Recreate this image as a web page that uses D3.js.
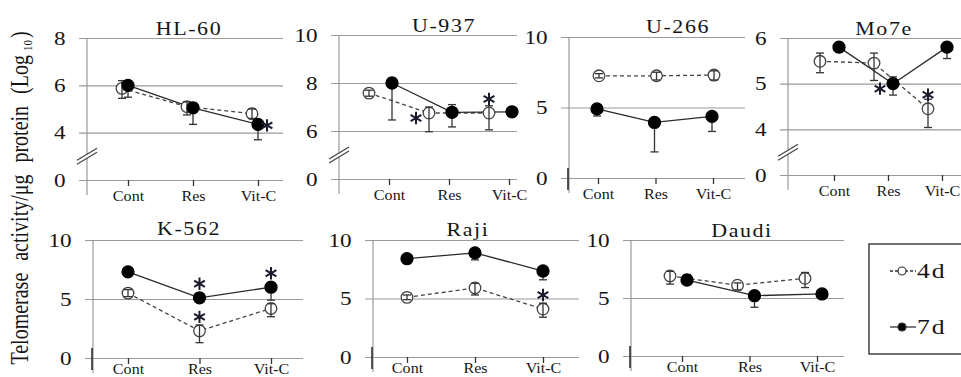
<!DOCTYPE html>
<html>
<head>
<meta charset="utf-8">
<script src="https://cdn.jsdelivr.net/npm/d3@7"></script>
<style>
  body { margin: 0; background: #fff; }
  svg { display: block; font-family: "Liberation Serif", "DejaVu Serif", serif; }
</style>
</head>
<body>
<svg width="961" height="377"></svg>
<script>
// cell lines, treatments, time points
var cellLines = ["HL-60", "U-937", "U-266", "Mo7e", "K-562", "Raji", "Daudi"];
var treatments = ["Cont", "Res", "Vit-C"];
var seriesNames = ["4d", "7d"];
var yTicks = [[0, 4, 6, 8], [0, 6, 8, 10], [0, 5, 10], [0, 4, 5, 6], [0, 5, 10], [0, 5, 10], [0, 5, 10]];

// telomerase activity (log10): mean, lower and upper error bar ends
var mean4d = [[5.87, 5.1, 4.8], [7.58, 6.75, 6.75], [7.25, 7.25, 7.3], [5.49, 5.45, 4.45], [5.5, 2.3, 4.2], [5.1, 5.9, 4.1], [6.9, 6.1, 6.7]];
var low4d  = [[5.45, 4.75, 4.6], [7.45, 5.97, 6.05], [7.1, 6.95, 6.95], [5.24, 5.07, 4.04], [5.2, 1.3, 3.5], [4.9, 5.3, 3.4], [6.2, 5.7, 5.9]];
var high4d = [[6.2, 5.3, 5.0], [7.7, 7.0, 7.05], [7.4, 7.5, 7.6], [5.67, 5.67, 4.66], [5.8, 2.8, 4.6], [5.3, 6.3, 4.6], [7.3, 6.3, 7.2]];
var mean7d = [[6.0, 5.05, 4.35], [8.0, 6.78, 6.8], [4.9, 3.94, 4.37], [5.8, 5.0, 5.8], [7.3, 5.1, 6.0], [8.4, 8.9, 7.35], [6.55, 5.2, 5.35]];
var low7d  = [[5.5, 4.35, 3.7], [6.46, 6.17, 6.7], [4.4, 1.85, 3.3], [5.69, 4.75, 5.55], [7.2, 5.0, 4.9], [8.2, 8.3, 6.6], [6.2, 4.2, 5.25]];
var high7d = [[6.15, 5.25, 4.5], [8.2, 7.1, 6.9], [5.05, 4.1, 4.5], [5.9, 5.15, 5.9], [7.4, 5.2, 6.1], [8.5, 9.0, 7.45], [7.0, 5.35, 5.45]];

// significance marks: [cell line index, treatment index, series index, side]
var stars = [[0, 2, 1, "right"], [1, 1, 0, "left"], [1, 2, 0, "above"], [3, 1, 1, "left"], [3, 2, 0, "above"],
             [4, 1, 1, "above"], [4, 1, 0, "above"], [4, 2, 1, "above"], [5, 2, 0, "above"]];

// panel placement
var panels = [
  {ax: 87,  right: 283, top: 38,  bottom: 180, c0: 128, c2: 258, tx: 189, ty: 35,  off: [-6, 0],   lab: 5},
  {ax: 339, right: 517, top: 35,  bottom: 179, c0: 389, c2: 509, tx: 444, ty: 32,  off: [-20, 3],  lab: 5},
  {ax: 569, right: 745, top: 37,  bottom: 178, c0: 598, c2: 713, tx: 678, ty: 33,  off: [1, -1],   lab: 5},
  {ax: 788, right: 961, top: 38,  bottom: 175, c0: 834, c2: 942, tx: 884, ty: 35,  off: [-14, 5],  lab: 5},
  {ax: 93,  right: 303, top: 240, bottom: 358, c0: 128, c2: 271, tx: 189, ty: 235, off: [0, 0],    lab: 0},
  {ax: 373, right: 579, top: 240, bottom: 357, c0: 407, c2: 543, tx: 468, ty: 236, off: [0, 0],    lab: 0},
  {ax: 631, right: 844, top: 240, bottom: 356, c0: 682, c2: 817, tx: 742, ty: 237, off: [-12, 5],  lab: 0}
];

var stretch = 1.22;
var ink = "#151515";
var gridCol = "#9a9a9a";
var svg = d3.select("svg");

cellLines.forEach(function(name, i) {
  var p = panels[i];
  var ticks = yTicks[i];
  var n = ticks.length;
  var g = svg.append("g");
  var gridLeft = p.ax - 8;

  // axis scale: ticks evenly spaced (broken axis), data scale continues linearly from the upper ticks
  var yAxisScale = d3.scaleLinear().domain(ticks)
      .range(ticks.map(function(t, k) { return p.bottom - k * (p.bottom - p.top) / (n - 1); }));
  var y = d3.scaleLinear().domain([ticks[1], ticks[n - 1]]).range([yAxisScale(ticks[1]), p.top]);
  var x = d3.scalePoint().domain(treatments).range([p.c0, p.c2]);
  var hasBreak = (ticks[1] - ticks[0]) > (ticks[2] - ticks[1]) * 1.01;

  // gridlines + y labels
  g.append("g")
    .attr("transform", "translate(" + gridLeft + ",0)")
    .call(d3.axisLeft(yAxisScale).tickValues(ticks).tickSize(-(p.right - gridLeft)).tickPadding(11).tickFormat(d3.format("d")))
    .call(function(a) {
      a.select(".domain").remove();
      a.selectAll("line").attr("stroke", gridCol).attr("stroke-width", 1.2);
      a.selectAll("text").attr("fill", ink).attr("font-size", 19)
        .attr("font-family", "Liberation Serif").attr("transform", "scale(" + stretch + ",1)");
    });

  // vertical axis
  g.append("line").attr("x1", p.ax).attr("x2", p.ax).attr("y1", p.top).attr("y2", p.bottom + 15)
    .attr("stroke", gridCol).attr("stroke-width", 1.2);
  if (!hasBreak) {
    g.append("line").attr("x1", p.ax - 1).attr("x2", p.ax - 1).attr("y1", p.bottom - 10).attr("y2", p.bottom + 12)
      .attr("stroke", "#222").attr("stroke-width", 1.5);
  } else {
    var m = (yAxisScale(ticks[0]) + yAxisScale(ticks[1])) / 2;
    g.append("polygon")
      .attr("points", [[p.ax - 10, m + 8], [p.ax + 10, m - 4], [p.ax + 10, m - 8], [p.ax - 10, m + 4]].join(" "))
      .attr("fill", "#fff");
    [8, 4].forEach(function(d) {
      g.append("line").attr("x1", p.ax - 10).attr("y1", m + d).attr("x2", p.ax + 10).attr("y2", m + d - 12)
        .attr("stroke", "#444").attr("stroke-width", 1.2);
    });
  }

  // x axis ticks + labels
  g.append("g")
    .attr("transform", "translate(0," + p.bottom + ")")
    .call(d3.axisBottom(x).tickSize(6).tickPadding(p.lab))
    .call(function(a) {
      a.select(".domain").remove();
      a.selectAll("line").attr("stroke", "#333").attr("stroke-width", 1.3);
      a.selectAll("text").attr("fill", ink).attr("font-size", 14)
        .attr("font-family", "Liberation Serif").attr("transform", "scale(1.15,1)");
    });

  // title
  g.append("text")
    .attr("transform", "translate(" + p.tx + "," + p.ty + ") scale(" + stretch + ",1)")
    .attr("text-anchor", "middle").attr("font-size", 18).attr("letter-spacing", 1.3)
    .attr("fill", ink).text(name);

  var series = [
    {mean: mean4d[i], lo: low4d[i], hi: high4d[i], dx: p.off[0], open: true},
    {mean: mean7d[i], lo: low7d[i], hi: high7d[i], dx: p.off[1], open: false}
  ];
  series.forEach(function(s) {
    s.pts = treatments.map(function(t, k) {
      return {x: x(t) + s.dx, y: y(s.mean[k]), lo: y(s.lo[k]), hi: y(s.hi[k])};
    });
  });

  var line = d3.line().x(function(d) { return d.x; }).y(function(d) { return d.y; });
  series.forEach(function(s) {
    g.append("path").attr("d", line(s.pts)).attr("fill", "none")
      .attr("stroke", s.open ? "#444" : "#2a2a2a").attr("stroke-width", 1.3)
      .attr("stroke-dasharray", s.open ? "4,3" : null);
  });

  series.forEach(function(s) {
    var eg = g.append("g");
    var drawBars = function() {
      s.pts.forEach(function(d) {
        eg.append("line").attr("x1", d.x).attr("x2", d.x).attr("y1", d.lo).attr("y2", d.hi)
          .attr("stroke", "#333").attr("stroke-width", 1.3);
        [d.lo, d.hi].forEach(function(v) {
          eg.append("line").attr("x1", d.x - 4).attr("x2", d.x + 4).attr("y1", v).attr("y2", v)
            .attr("stroke", "#333").attr("stroke-width", 1.3);
        });
      });
    };
    if (!s.open) drawBars();
    eg.selectAll("circle").data(s.pts).enter().append("circle")
      .attr("cx", function(d) { return d.x; })
      .attr("cy", function(d) { return d.y; })
      .attr("r", s.open ? 5.8 : 6)
      .attr("fill", s.open ? "#fff" : "#000")
      .attr("stroke", s.open ? "#444" : "#000").attr("stroke-width", 1.3);
    if (s.open) drawBars();
  });

  // asterisks
  stars.filter(function(st) { return st[0] === i; }).forEach(function(st) {
    var pt = series[st[2]].pts[st[1]];
    var sx = pt.x, sy = pt.y;
    if (st[3] === "above") sy -= 14;
    if (st[3] === "left") { sx -= 13; sy += 5; }
    if (st[3] === "right") { sx += 9; sy += 1; }
    var r = 6.2, t = r / 2, u = t * Math.sqrt(3);
    var path = d3.path();
    path.moveTo(sx, sy - r); path.lineTo(sx, sy + r);
    path.moveTo(sx - u, sy - t); path.lineTo(sx + u, sy + t);
    path.moveTo(sx - u, sy + t); path.lineTo(sx + u, sy - t);
    g.append("path").attr("d", path.toString()).attr("stroke", "#1b1b2e").attr("stroke-width", 2).attr("fill", "none");
  });
});

// y axis title
var yt = svg.append("text")
  .attr("transform", "translate(28,198) rotate(-90) scale(1," + stretch + ")")
  .attr("text-anchor", "middle").attr("font-size", 20).attr("fill", ink).attr("word-spacing", 7);
yt.append("tspan").text("Telomerase activity/\u03bcg protein (Log");
yt.append("tspan").attr("font-size", 11).attr("dx", 4).attr("dy", 3).text("10");
yt.append("tspan").attr("dy", -3).attr("dx", 2).text(")");

// legend
var lg = svg.append("g");
lg.append("rect").attr("x", 869).attr("y", 244).attr("width", 110).attr("height", 110)
  .attr("fill", "none").attr("stroke", "#333").attr("stroke-width", 1.4);
seriesNames.forEach(function(nm, k) {
  var ly = k === 0 ? 271 : 327;
  lg.append("line").attr("x1", 890).attr("x2", 916).attr("y1", ly).attr("y2", ly)
    .attr("stroke", "#333").attr("stroke-width", 1.3).attr("stroke-dasharray", k === 0 ? "3,2" : null);
  lg.append("circle").attr("cx", 902).attr("cy", ly).attr("r", 4)
    .attr("fill", k === 0 ? "#fff" : "#000").attr("stroke", "#333").attr("stroke-width", 1.2);
  lg.append("text").attr("transform", "translate(917," + (ly + 7) + ") scale(" + stretch + ",1)")
    .attr("font-size", 21).attr("letter-spacing", 1.5).attr("fill", ink).text(nm);
});
</script>
</body>
</html>
